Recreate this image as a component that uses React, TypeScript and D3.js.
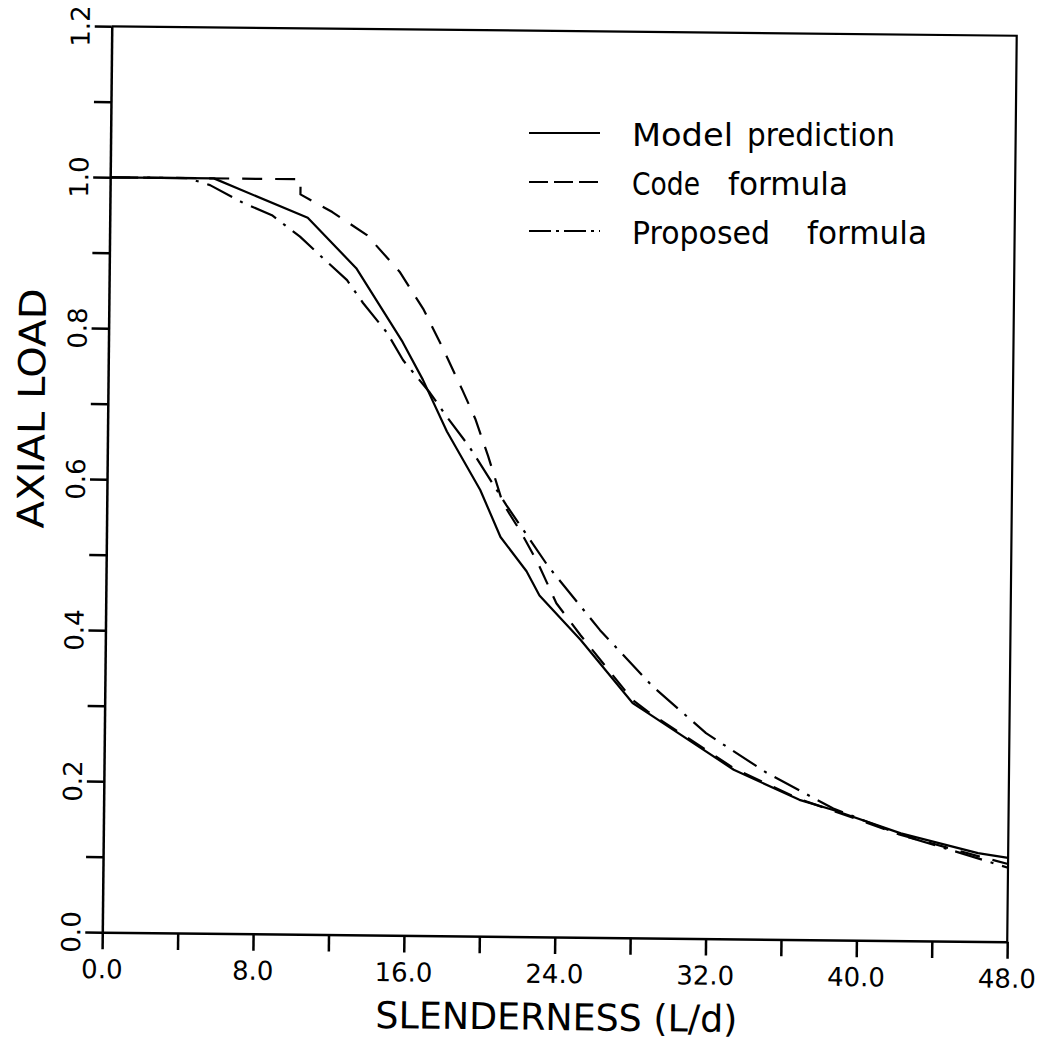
import { useEffect, useRef } from 'react';
import * as d3 from 'd3';

// values
const modelX = [0, 5.5, 10.5, 13.1, 15.6, 16.7, 18.0, 19.8, 20.9, 22.3, 23.0, 25.2, 28.0, 28.8, 33.4, 36.9, 38.7, 42.3, 46.4, 48.0];
const modelY = [1.0, 1.0, 0.949, 0.883, 0.786, 0.736, 0.668, 0.591, 0.529, 0.484, 0.452, 0.394, 0.311, 0.298, 0.224, 0.185, 0.172, 0.142, 0.117, 0.111];

const codeX = [0, 10.1, 10.1, 11.8, 13.65, 15.4, 16.7, 17.7, 18.8, 19.5, 20.2, 21.0, 22.0, 22.9, 23.9, 25.2, 28.0, 28.8, 33.4, 36.9, 38.7, 42.3, 46.4, 48.0];
const codeY = [1.0, 1.0, 0.98, 0.957, 0.927, 0.879, 0.829, 0.78, 0.723, 0.685, 0.636, 0.574, 0.535, 0.495, 0.442, 0.4, 0.315, 0.3, 0.226, 0.186, 0.171, 0.14, 0.113, 0.103];

const proposedX = [0, 4.1, 5.3, 7.06, 8.6, 10.1, 11.28, 12.62, 13.48, 14.77, 15.63, 17.08, 18.0, 19.2, 21.2, 23.44, 26.23, 29.02, 31.91, 35.11, 37.62, 38.7, 42.3, 46.4, 48.0];
const proposedY = [1.0, 1.0, 0.991, 0.968, 0.952, 0.924, 0.897, 0.867, 0.837, 0.798, 0.762, 0.719, 0.687, 0.648, 0.571, 0.491, 0.407, 0.334, 0.272, 0.221, 0.188, 0.174, 0.14, 0.11, 0.098];

const xTickValues = [0, 4, 8, 12, 16, 20, 24, 28, 32, 36, 40, 44, 48];
const xLabelValues = [0, 8, 16, 24, 32, 40, 48];
const yTickValues = [0, 0.1, 0.2, 0.3, 0.4, 0.5, 0.6, 0.7, 0.8, 0.9, 1.0, 1.1, 1.2];
const yLabelValues = [0, 0.2, 0.4, 0.6, 0.8, 1.0, 1.2];

const legendNames = [['Model', 'prediction'], ['Code', 'formula'], ['Proposed', 'formula']];

const [W, H] = [1054, 1042];
const [left, right, top, bottom] = [107, 1012, 31, 937];
const font = '"DejaVu Sans", sans-serif';

export default function App() {
    const node = useRef<SVGSVGElement>(null);

    useEffect(() => {
        if (!node.current) return;
        const svg = d3.select(node.current);
        svg.selectAll('*').remove();

        const x = d3.scaleLinear().domain([0, 48]).range([left, right]);
        const y = d3.scaleLinear().domain([0, 1.2]).range([bottom, top]);

        svg.append('rect').attr('width', W).attr('height', H).attr('fill', 'white');

        // the scan is tilted a little clockwise
        const plot = svg.append('g')
            .attr('transform', `rotate(0.6, ${(left + right) / 2}, ${(top + bottom) / 2})`);

        const xAxisG = plot.append('g')
            .attr('transform', `translate(0,${bottom})`)
            .call(d3.axisBottom(x).tickValues(xTickValues).tickSize(17).tickSizeOuter(0).tickFormat(() => ''));
        const yAxisG = plot.append('g')
            .attr('transform', `translate(${left},0)`)
            .call(d3.axisLeft(y).tickValues(yTickValues).tickSize(17).tickSizeOuter(0).tickFormat(() => ''));
        [xAxisG, yAxisG].forEach(g => {
            g.selectAll('path, line').attr('stroke', '#000').attr('stroke-width', 2.5);
        });

        // top and right frame
        plot.append('path')
            .attr('d', `M${x(0)},${y(1.2)}H${x(48)}V${y(0)}`)
            .attr('fill', 'none').attr('stroke', '#000').attr('stroke-width', 2.2);

        const fmt = d3.format('.1f');
        plot.selectAll('.xlab').data(xLabelValues).enter().append('text')
            .attr('x', d => x(d)).attr('y', bottom + 46)
            .attr('text-anchor', 'middle')
            .attr('font-family', font).attr('font-size', 26)
            .text(d => fmt(d));

        plot.selectAll('.ylab').data(yLabelValues).enter().append('text')
            .attr('transform', d => `translate(${left - 22},${y(d)}) rotate(-90)`)
            .attr('text-anchor', 'middle')
            .attr('font-family', font).attr('font-size', 26)
            .text(d => fmt(d));

        plot.append('text')
            .attr('x', 562).attr('y', bottom + 93)
            .attr('text-anchor', 'middle')
            .attr('font-family', font).attr('font-size', 37)
            .attr('textLength', 362).attr('lengthAdjust', 'spacingAndGlyphs')
            .text('SLENDERNESS (L/d)');

        plot.append('text')
            .attr('transform', `translate(${left - 63},414) rotate(-90)`)
            .attr('text-anchor', 'middle')
            .attr('font-family', font).attr('font-size', 37)
            .attr('textLength', 240).attr('lengthAdjust', 'spacingAndGlyphs')
            .text('AXIAL LOAD');

        const line = d3.line<[number, number]>().x(d => x(d[0])).y(d => y(d[1]));
        const series = [
            { pts: d3.zip(modelX, modelY), dash: null, legDash: null },
            { pts: d3.zip(codeX, codeY), dash: '20,13', legDash: '19,6' },
            { pts: d3.zip(proposedX, proposedY), dash: '28,9,3,9', legDash: '22,5,3,5' },
        ];
        series.forEach(s => {
            plot.append('path')
                .attr('d', line(s.pts as [number, number][]))
                .attr('fill', 'none').attr('stroke', '#000').attr('stroke-width', 2.2)
                .attr('stroke-linejoin', 'round')
                .attr('stroke-dasharray', s.dash);
        });

        // legend
        const rowsY = [133, 182, 231];
        const wordX = [[632, 747], [632, 728], [632, 807]];
        const wordW = [[101, 148], [68, 120], [138, 120]];
        const legend = svg.append('g');
        series.forEach((s, i) => {
            legend.append('line')
                .attr('x1', 529).attr('x2', 600).attr('y1', rowsY[i]).attr('y2', rowsY[i])
                .attr('stroke', '#000').attr('stroke-width', 2)
                .attr('stroke-dasharray', s.legDash);
            legendNames[i].forEach((w, j) => {
                legend.append('text')
                    .attr('x', wordX[i][j]).attr('y', rowsY[i] + 13)
                    .attr('font-family', font).attr('font-size', 32)
                    .attr('textLength', wordW[i][j]).attr('lengthAdjust', 'spacingAndGlyphs')
                    .text(w);
            });
        });
    }, [node]);

    return (
        <svg ref={node} width={W} height={H}
            style={{ position: 'absolute', left: 0, top: 0, display: 'block' }} />
    );
}
